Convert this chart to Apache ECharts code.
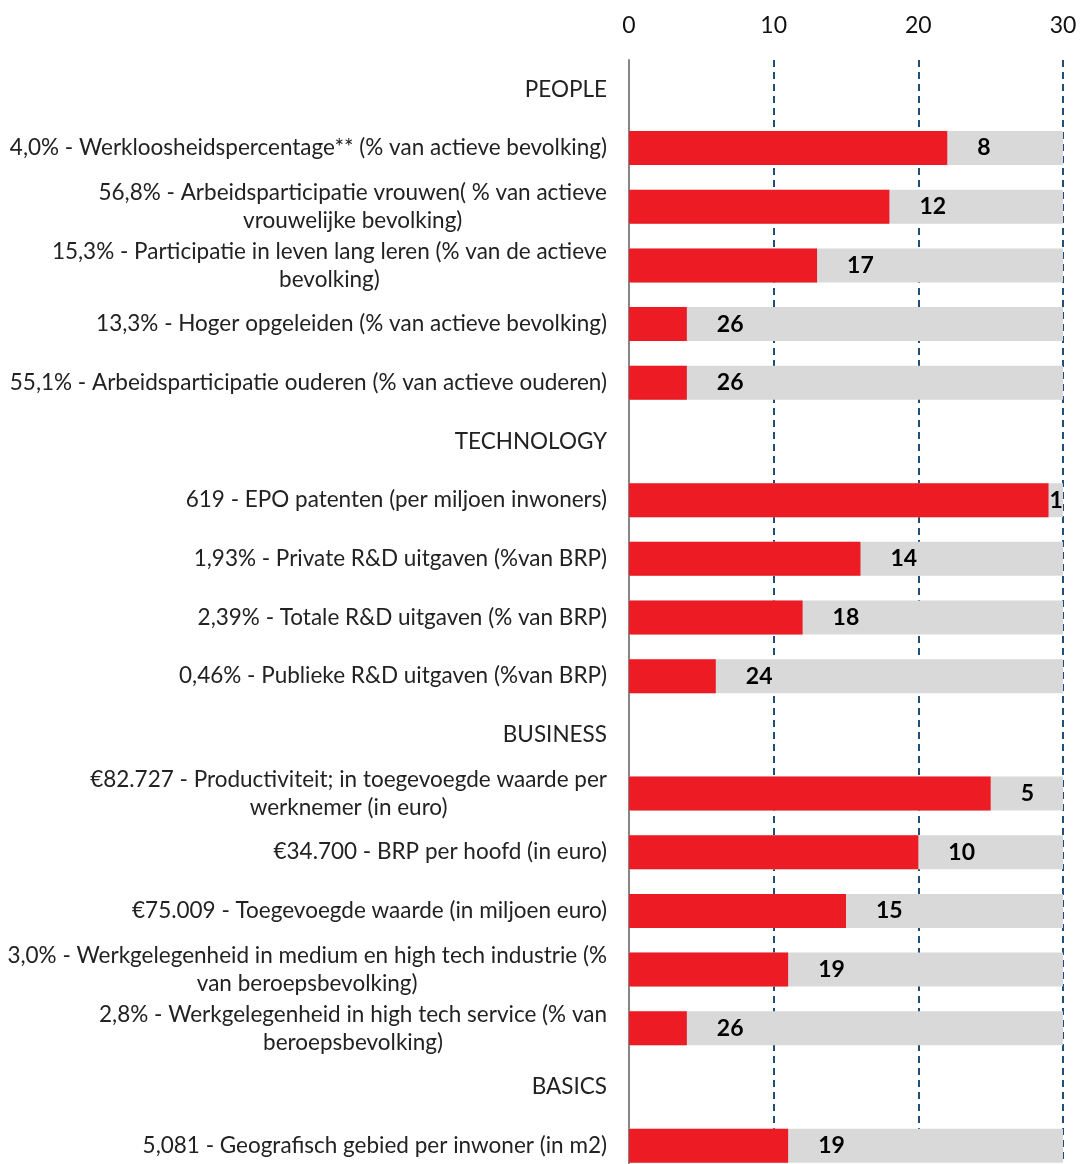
<!DOCTYPE html>
<html>
<head>
<meta charset="utf-8">
<script src="https://cdn.jsdelivr.net/npm/echarts@6/dist/echarts.min.js"></script>
<style>
  html, body { margin: 0; padding: 0; background: #fff; }
  #chart { width: 1080px; height: 1164px; }
</style>
</head>
<body>
<div id="chart"></div>
<script>
// rijen van boven naar beneden; kopjes hebben geen balk
const categories = [
  'PEOPLE',
  '4,0% - Werkloosheidspercentage** (% van actieve bevolking)',
  '56,8% - Arbeidsparticipatie vrouwen( % van actieve\nvrouwelijke bevolking)',
  '15,3% - Participatie in leven lang leren (% van de actieve\nbevolking)',
  '13,3% - Hoger opgeleiden (% van actieve bevolking)',
  '55,1% - Arbeidsparticipatie ouderen (% van actieve ouderen)',
  'TECHNOLOGY',
  '619 - EPO patenten (per miljoen inwoners)',
  '1,93% - Private R&D uitgaven (%van BRP)',
  '2,39% - Totale R&D uitgaven (% van BRP)',
  '0,46% - Publieke R&D uitgaven (%van BRP)',
  'BUSINESS',
  '€82.727 - Productiviteit; in toegevoegde waarde per\nwerknemer (in euro)',
  '€34.700 - BRP per hoofd (in euro)',
  '€75.009 - Toegevoegde waarde (in miljoen euro)',
  '3,0% - Werkgelegenheid in medium en high tech industrie (%\nvan beroepsbevolking)',
  '2,8% - Werkgelegenheid in high tech service (% van\nberoepsbevolking)',
  'BASICS',
  '5,081 - Geografisch gebied per inwoner (in m2)'
];
const scoreValues = [null, 22, 18, 13, 4, 4, null, 29, 16, 12, 6, null, 25, 20, 15, 11, 4, null, 11];
const rankLabels = [null, 8, 12, 17, 26, 26, null, 1, 14, 18, 24, null, 5, 10, 15, 19, 26, null, 19];
const xTicks = [0, 10, 20, 30];

const AXIS_MAX = xTicks[xTicks.length - 1];
const GRID_LEFT = 629, GRID_RIGHT = 17;
const unitPx = (1080 - GRID_LEFT - GRID_RIGHT) / AXIS_MAX;

var chart = echarts.init(document.getElementById('chart'));

var redData = scoreValues.map(function (v) {
  if (v == null) return '-';
  var room = (AXIS_MAX - v) * unitPx;
  return {
    value: v,
    label: { distance: Math.max(1, Math.min(30, room - 14)) }
  };
});
var backData = scoreValues.map(function (v) { return v == null ? '-' : AXIS_MAX; });

var option = {
  animation: false,
  grid: {
    left: GRID_LEFT, right: GRID_RIGHT, top: 60, height: 1115,
    outerBoundsMode: 'none', containLabel: false
  },
  xAxis: {
    type: 'value',
    position: 'top',
    min: xTicks[0],
    max: AXIS_MAX,
    interval: xTicks[1] - xTicks[0],
    axisLine: { show: false },
    axisTick: { show: false },
    axisLabel: { fontFamily: 'Lato', fontSize: 23, color: '#111', margin: 23 },
    splitLine: { show: true, lineStyle: { color: '#1F4E79', width: 2, type: [7, 5] } }
  },
  yAxis: {
    type: 'category',
    inverse: true,
    data: categories,
    axisTick: { show: false },
    axisLine: { show: true, lineStyle: { color: '#868686', width: 2 } },
    axisLabel: {
      margin: 22,
      fontFamily: 'Lato',
      fontSize: 22.5,
      color: '#222',
      lineHeight: 28,
      formatter: function (val) {
        return val.split('\n').map(function (s) { return '{c|' + s + '}'; }).join('\n');
      },
      rich: { c: { align: 'center', fontFamily: 'Lato', fontSize: 22.5, color: '#222', lineHeight: 28 } }
    }
  },
  series: [
    {
      name: 'achtergrond',
      type: 'bar',
      data: backData,
      barWidth: 34,
      barGap: '-100%',
      itemStyle: { color: '#D9D9D9' },
      silent: true
    },
    {
      name: 'score',
      type: 'bar',
      data: redData,
      barWidth: 34,
      itemStyle: { color: '#ED1C24' },
      label: {
        show: true,
        position: 'right',
        fontFamily: 'Lato',
        fontWeight: 'bold',
        fontSize: 23,
        color: '#000',
        formatter: function (p) { return rankLabels[p.dataIndex]; }
      }
    }
  ]
};
chart.setOption(option);
</script>
</body>
</html>
